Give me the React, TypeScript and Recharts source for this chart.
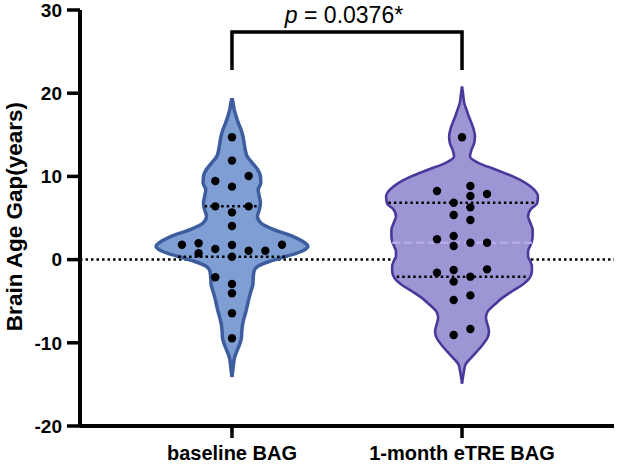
import React from 'react';
import {
  ComposedChart,
  Area,
  Scatter,
  XAxis,
  YAxis,
  ReferenceLine,
  ReferenceDot,
  Label,
} from 'recharts';

// groups on the x axis (positions 1 and 2)
const GROUPS = ['baseline BAG', '1-month eTRE BAG'];
const Y_TICKS = [-20, -10, 0, 10, 20, 30];

// violin outlines: relative density read at each level (null = outside the violin)
const LEVELS = [
  20.8, 20.0, 19.4, 18.8, 18.0, 17.2, 16.4, 15.6, 14.8, 14.0,
  13.2, 12.4, 11.6, 10.8, 10.0, 9.2, 8.4, 7.6, 6.8, 6.0,
  5.2, 4.4, 3.6, 2.8, 2.2, 1.6, 1.0, 0.4, -0.2, -0.8,
  -1.4, -2.2, -3.0, -3.8, -4.6, -5.4, -6.2, -7.0, -7.8, -8.6,
  -9.4, -10.2, -11.0, -11.8, -12.6, -13.4, -14.1, -14.9,
];
const BASE_DENSITY = [
  null, null, 0, 0.015, 0.03, 0.055, 0.085, 0.12, 0.145, 0.16,
  0.175, 0.2, 0.27, 0.34, 0.375, 0.38, 0.345, 0.36, 0.375, 0.36,
  0.335, 0.38, 0.55, 0.8, 0.93, 1.0, 0.92, 0.72, 0.5, 0.34,
  0.29, 0.28, 0.275, 0.25, 0.225, 0.205, 0.185, 0.16, 0.14, 0.13,
  0.125, 0.1, 0.065, 0.033, 0.02, 0.01, 0, null,
];
const ETRE_DENSITY = [
  0, 0.013, 0.02, 0.03, 0.06, 0.09, 0.125, 0.155, 0.17, 0.16,
  0.125, 0.105, 0.22, 0.45, 0.67, 0.84, 0.95, 1.0, 0.99, 0.9,
  0.87, 0.9, 0.93, 0.93, 0.92, 0.895, 0.87, 0.87, 0.9, 0.92,
  0.92, 0.89, 0.8, 0.66, 0.53, 0.43, 0.34, 0.315, 0.335, 0.355,
  0.335, 0.275, 0.2, 0.12, 0.046, 0.026, 0.013, 0,
];

// individual subjects: [value, swarm column]
const BASE_DOTS = [
  [14.7, 0], [11.9, 0], [10.05, 1], [9.45, -1], [8.77, 0], [6.4, -1], [6.4, 1],
  [5.68, 0], [4.04, 0], [1.79, -3], [1.96, -2], [0.76, -2], [1.27, -1], [1.75, 0],
  [0.35, 0], [1.07, 1], [1.07, 2], [1.79, 3], [-2.13, -1], [-2.93, 0], [-4.05, 0],
  [-6.45, 0], [-9.46, 0],
];
const ETRE_DOTS = [
  [14.7, 0], [8.25, -1.5], [8.85, 0.5], [7.64, 0.5], [7.88, 1.5], [6.84, -0.5],
  [6.28, 0.5], [5.36, -0.5], [4.76, 0.5], [2.44, -1.5], [2.84, -0.5], [1.63, -0.5],
  [2.03, 0.5], [2.03, 1.5], [-1.57, -1.5], [-1.25, -0.5], [-1.17, 1.5], [-2.65, -0.5],
  [-2.05, 0.5], [-4.86, -0.5], [-4.3, 0.5], [-9.06, -0.5], [-8.34, 0.5],
];

// quartile / median lines: [value, density at that level]
const BASE_QUARTILES = [[6.4, 0.36], [0.35, 0.71]];
const ETRE_QUARTILES = [[6.84, 0.97], [-2.05, 0.86]];
const ETRE_MEDIAN = [2.03, 0.92];

const P_TEXT = '= 0.0376*';
const BRACKET_TOP = 27.36;
const BRACKET_BOTTOM = 22.8;

const HALF_WIDTH = 0.33; // x units at density 1
const DOT_STEP = 0.0725;
const FONT = '"Liberation Sans", Arial, Helvetica, sans-serif';

function violinRows(center: number, density: (number | null)[]) {
  return LEVELS.map((y, i) => ({ y, d: density[i] }))
    .filter((r) => r.d != null)
    .map((r) => ({ y: r.y, range: [center - (r.d as number) * HALF_WIDTH, center + (r.d as number) * HALF_WIDTH] }));
}

function dotRows(center: number, dots: number[][]) {
  return dots.map(([v, col]) => ({ x: center + col * DOT_STEP, y: v }));
}

function segment(center: number, [v, d]: number[]) {
  return [
    { x: center - d * HALF_WIDTH, y: v },
    { x: center + d * HALF_WIDTH, y: v },
  ];
}

const baseRows = violinRows(1, BASE_DENSITY);
const etreRows = violinRows(2, ETRE_DENSITY);
const baseDots = dotRows(1, BASE_DOTS);
const etreDots = dotRows(2, ETRE_DOTS);
const bracket = [
  { x: 1, y: BRACKET_BOTTOM },
  { x: 1, y: BRACKET_TOP },
  { x: 2, y: BRACKET_TOP },
  { x: 2, y: BRACKET_BOTTOM },
];

const dotShape = (p: any) => <circle cx={p.cx} cy={p.cy} r={4.2} fill="#000" />;
const noShape = () => <g />;

function YTitle(props: any) {
  const vb = props.viewBox || { x: 0, y: 10, width: 80, height: 416 };
  const x = vb.x + 22;
  const y = vb.y + vb.height / 2 - 1.5;
  return (
    <text x={x} y={y} transform={`rotate(-90 ${x} ${y})`} textAnchor="middle" fontSize={22.5} fontWeight={700} fill="#000">
      Brain Age Gap(years)
    </text>
  );
}

function PLabel(props: any) {
  const vb = props.viewBox || {};
  const cx = (vb.x ?? 0) + (vb.width ?? 0) / 2;
  const cy = (vb.y ?? 0) + (vb.height ?? 0) / 2;
  return (
    <text x={cx - 3} y={cy - 9} textAnchor="middle" fontSize={23} fill="#000">
      <tspan fontStyle="italic">p</tspan>
      {' ' + P_TEXT}
    </text>
  );
}

const dotted = { stroke: '#000', strokeWidth: 2.5, strokeDasharray: '2.5 3' };

export default function App() {
  return (
    <div style={{ width: 617, height: 466, fontFamily: FONT }}>
      <style>{'body{margin:0}'}</style>
      <ComposedChart width={617} height={466} layout="vertical" margin={{ top: 10, right: 3, bottom: 0, left: 0 }}>
        <XAxis
          type="number"
          domain={[0.3394, 2.6606]}
          allowDataOverflow
          ticks={[1, 2]}
          interval={0}
          tickFormatter={(v) => GROUPS[Number(v) - 1]}
          height={40}
          axisLine={{ stroke: '#000', strokeWidth: 4 }}
          tickLine={{ stroke: '#000', strokeWidth: 3.5 }}
          tickSize={12}
          tickMargin={8}
          tick={{ fill: '#000', fontSize: 20, fontWeight: 700 }}
        />
        <YAxis
          type="number"
          dataKey="y"
          reversed
          domain={[-20, 30]}
          allowDataOverflow
          ticks={Y_TICKS}
          interval={0}
          width={80}
          axisLine={{ stroke: '#000', strokeWidth: 4 }}
          tickLine={{ stroke: '#000', strokeWidth: 3.5 }}
          tickSize={13}
          tickMargin={5}
          tick={{ fill: '#000', fontSize: 19, fontWeight: 700 }}
          label={YTitle}
        />
        <ReferenceLine y={0} {...dotted} zIndex={50} />
        <Area
          data={baseRows}
          dataKey="range"
          type="monotone"
          fill="#7f9fd4"
          fillOpacity={1}
          stroke="#3d5d9e"
          strokeWidth={3.5}
          dot={false}
          activeDot={false}
          isAnimationActive={false}
        />
        <Area
          data={etreRows}
          dataKey="range"
          type="monotone"
          fill="#9d96d5"
          fillOpacity={1}
          stroke="#4a389a"
          strokeWidth={2.6}
          dot={false}
          activeDot={false}
          isAnimationActive={false}
        />
        <ReferenceLine segment={segment(2, ETRE_MEDIAN)} stroke="#b9a8ea" strokeWidth={2.5} strokeDasharray="8 4" zIndex={450} />
        {BASE_QUARTILES.map((q, i) => (
          <ReferenceLine key={`bq${i}`} segment={segment(1, q)} {...dotted} zIndex={450} />
        ))}
        {ETRE_QUARTILES.map((q, i) => (
          <ReferenceLine key={`eq${i}`} segment={segment(2, q)} {...dotted} zIndex={450} />
        ))}
        <Scatter data={baseDots} dataKey="x" fill="#000" shape={dotShape} isAnimationActive={false} />
        <Scatter data={etreDots} dataKey="x" fill="#000" shape={dotShape} isAnimationActive={false} />
        <Scatter
          data={bracket}
          dataKey="x"
          fill="#000"
          shape={noShape}
          line={{ stroke: '#000', strokeWidth: 3.5 }}
          isAnimationActive={false}
        />
        <ReferenceDot x={1.5} y={BRACKET_TOP} r={0} fill="none" stroke="none">
          <Label content={PLabel} />
        </ReferenceDot>
      </ComposedChart>
    </div>
  );
}
